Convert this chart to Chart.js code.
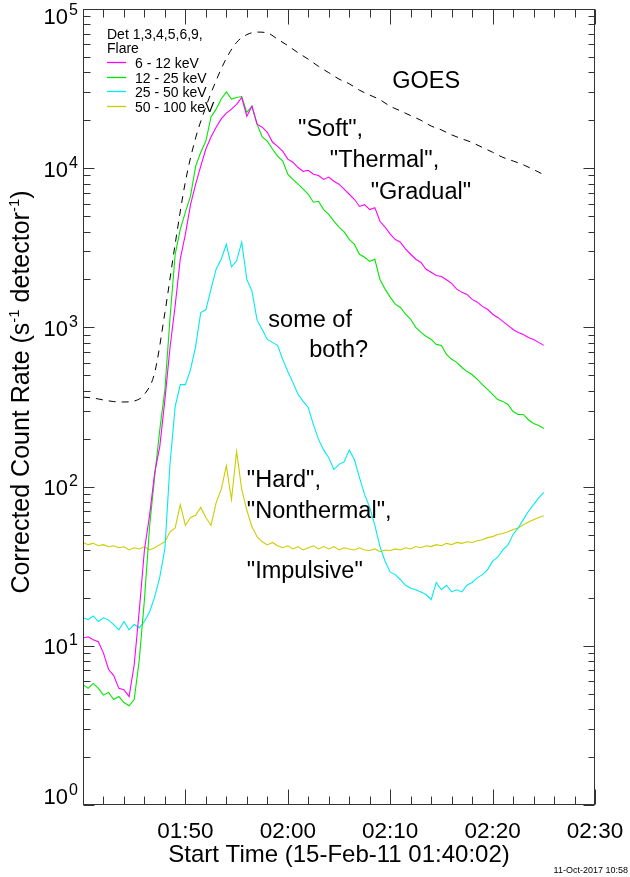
<!DOCTYPE html>
<html>
<head>
<meta charset="utf-8">
<script src="https://cdn.jsdelivr.net/npm/chart.js@4.4.0/dist/chart.umd.min.js"></script>
<style>
	html, body { margin: 0; padding: 0; background: #fff; }
	#wrap { width: 630px; height: 877px; position: relative; }
</style>
</head>
<body>
<div id="wrap"><canvas id="flareChart"></canvas></div>
<script>
// minutes after 01:40 (RHESSI samples)
const minutes = [
	0, 0.5, 1, 1.5, 2, 2.5, 3, 3.5, 4, 4.5,
	5, 5.5, 6, 6.5, 7, 7.5, 8, 8.5, 9, 9.5,
	10, 10.5, 11, 11.5, 12, 12.5, 13, 13.5, 14, 14.5,
	15, 15.5, 16, 16.5, 17, 17.5, 18, 18.5, 19, 19.5,
	20, 20.5, 21, 21.5, 22, 22.5, 23, 23.5, 24, 24.5,
	25, 25.5, 26, 26.5, 27, 27.5, 28, 28.5, 29, 29.5,
	30, 30.5, 31, 31.5, 32, 32.5, 33, 33.5, 34, 34.5,
	35, 35.5, 36, 36.5, 37, 37.5, 38, 38.5, 39, 39.5,
	40, 40.5, 41, 41.5, 42, 42.5, 43, 43.5, 44, 44.5,
	45
];

// 6 - 12 keV
const band6to12 = [
	11.2, 11.4, 10.9, 10.6, 9.0, 7.1, 6.5, 5.4, 5.3, 4.8,
	7.6, 16.8, 40, 66, 122, 179, 352, 750, 1370, 2690,
	3850, 5900, 7940, 10300, 13200, 15700, 18100, 20400, 22200, 23500,
	25200, 27800, 21200, 24500, 18900, 18100, 16800, 14600, 13700, 12800,
	11400, 10900, 10100, 9550, 9700, 9170, 9000, 8500, 8800, 8280,
	7940, 7380, 6860, 6380, 5750, 5900, 5500, 5650, 4640, 4270,
	3850, 3560, 3430, 3100, 2880, 2680, 2560, 2320, 2220, 2120,
	2090, 1990, 1890, 1740, 1660, 1610, 1500, 1440, 1355, 1300,
	1210, 1155, 1090, 1030, 970, 930, 903, 865, 840, 805,
	771
];

// 12 - 25 keV
const band12to25 = [
	5.7, 5.4, 5.8, 5.4, 4.9, 5.1, 4.6, 4.8, 4.4, 4.2,
	4.6, 8.2, 19.5, 56, 116, 228, 408, 1150, 2880, 4130,
	5300, 6670, 10300, 12600, 14800, 21000, 23500, 27200, 30100, 27200,
	27800, 28200, 22400, 24500, 18900, 15700, 14800, 13200, 11900, 11100,
	9170, 8510, 7940, 7380, 6860, 6110, 6200, 5490, 5130, 4650,
	4270, 3980, 3570, 3320, 2880, 2760, 2600, 2680, 2000, 1740,
	1550, 1400, 1335, 1210, 1125, 1000, 930, 880, 840, 782,
	771, 676, 630, 603, 560, 528, 506, 471, 437, 408,
	380, 352, 343, 328, 296, 284, 284, 263, 249, 242,
	232
];

// 25 - 50 keV
const band25to50 = [
	15.0, 14.6, 15.4, 14.2, 15.0, 14.5, 13.6, 12.6, 14.2, 12.6,
	13.6, 13.0, 14.2, 16.3, 20.3, 27, 41, 140, 318, 437,
	437, 543, 760, 1240, 1290, 1740, 2320, 2690, 3330, 2400,
	2620, 3430, 2000, 1690, 1110, 970, 840, 805, 771, 630,
	528, 450, 380, 343, 314, 245, 198, 170, 152, 128,
	138, 143, 170, 148, 114, 89, 74, 57, 42, 34,
	29, 28, 26, 24, 23, 22.5, 21.8, 21, 19.5, 25,
	22.5, 24, 21.8, 22.5, 21.8, 24, 25, 26.7, 28, 30,
	34, 36, 40, 43, 50, 55, 62, 70, 77, 85,
	92
];

// 50 - 100 keV
const band50to100 = [
	44.6, 43.2, 44, 42.5, 43.2, 41.9, 42.5, 41.3, 41.9, 40,
	41.3, 40.6, 41.9, 40, 41.3, 43.2, 45, 52, 55, 77,
	57, 64, 66, 74, 64, 57, 79, 96, 135, 83,
	166, 96, 71, 56, 48.5, 45, 43, 44.6, 42.5, 41.3,
	42.5, 40.6, 42, 40, 41.3, 42.5, 40.6, 42, 40.6, 42,
	40, 41.3, 40.6, 40, 41.3, 40, 39.7, 40.6, 39, 40,
	39.7, 40.6, 40, 41.3, 40.6, 42, 41.3, 42.5, 42, 43.2,
	42.5, 44, 43.2, 44.6, 44, 45, 44.6, 45.7, 46.4, 47.8,
	48.5, 50, 50.7, 52, 53.7, 55, 57.6, 60, 62, 64,
	65.7
];

// GOES (scaled), one sample per minute
const goesMinutes = [
	0, 1, 2, 3, 4, 5, 6, 7, 8, 9,
	10, 11, 12, 13, 14, 15, 16, 17, 18, 19,
	20, 21, 22, 23, 24, 25, 26, 27, 28, 29,
	30, 31, 32, 33, 34, 35, 36, 37, 38, 39,
	40, 41, 42, 43, 44, 45
];
const goesFlux = [
	365, 360, 350, 342, 340, 345, 380, 520, 1240, 3340,
	8220, 15500, 24300, 35500, 49000, 61700, 69000, 71600, 70800, 64600,
	58900, 53100, 48400, 43600, 39800, 36300, 33900, 30900, 28800, 26900,
	24500, 22900, 21400, 20000, 18400, 17400, 16200, 15300, 14500, 13500,
	12600, 11700, 11100, 10500, 9800, 9100
];

const bandLabels = ['6 - 12 keV', '12 - 25 keV', '25 - 50 keV', '50 - 100 keV'];
const bandColors = ['#ff00ff', '#00e800', '#00eaf0', '#cccc00'];

// axis ticks
const xTickValues = [10, 20, 30, 40, 50];
const xTickLabels = ['01:50', '02:00', '02:10', '02:20', '02:30'];
const yTickExps = [0, 1, 2, 3, 4, 5];

// notes on the plot: [text, minute, count rate] (left edge, baseline)
const notes = [
	['GOES', 30.2, 31900],
	['"Soft",', 21.0, 15900],
	['"Thermal",', 24.1, 10150],
	['"Gradual"', 28.1, 6380],
	['some of', 18.1, 1000],
	['both?', 22.1, 648],
	['"Hard",', 16.0, 100],
	['"Nonthermal",', 16.0, 63.8],
	['"Impulsive"', 16.0, 26.5]
];

const FONT = '"Liberation Sans", Arial, Helvetica, sans-serif';

// 축, 눈금, 글자 그리기
const decorPlugin = {
	id: 'decor',
	afterDraw: function(chart) {
		const ctx = chart.ctx;
		const a = chart.chartArea;
		const xs = chart.scales.x;
		const ys = chart.scales.y;
		const L = a.left + 0.5, R = a.right - 0.5, T = a.top + 0.5, B = a.bottom - 0.5;

		ctx.save();
		ctx.strokeStyle = '#333';
		ctx.lineWidth = 1;
		let seg = function(x1, y1, x2, y2) {
			ctx.beginPath();
			ctx.moveTo(x1, y1);
			ctx.lineTo(x2, y2);
			ctx.stroke();
		};
		ctx.strokeRect(L, T, R - L, B - T);

		// x ticks, bottom and top
		for (let m = 0; m <= 50; m += 2) {
			let px = Math.round(xs.getPixelForValue(m)) + 0.5;
			let len = (m % 10 === 0) ? 15 : 8;
			seg(px, B, px, B - len);
			seg(px, T, px, T + len);
		}
		// y ticks, left and right
		for (let e = 0; e <= 5; e++) {
			for (let k = 1; k <= 9; k++) {
				if (e === 5 && k > 1) break;
				let py = Math.round(ys.getPixelForValue(k * Math.pow(10, e))) + 0.5;
				let major = (k === 1);
				seg(L, py, L + (major ? 11 : 7), py);
				seg(R, py, R - (major ? 11 : 6), py);
			}
		}

		ctx.fillStyle = '#000';
		// y tick labels 10^n
		yTickExps.forEach(function(e) {
			let c = Math.min(795, Math.max(15, ys.getPixelForValue(Math.pow(10, e))));
			ctx.font = '22px ' + FONT;
			ctx.textAlign = 'right';
			ctx.fillText('10', 68, c + 8.5);
			ctx.font = '16px ' + FONT;
			ctx.textAlign = 'left';
			ctx.fillText(String(e), 69, c - 0.5);
		});

		// x tick labels
		ctx.font = '22.5px ' + FONT;
		ctx.textAlign = 'center';
		xTickValues.forEach(function(v, i) {
			ctx.fillText(xTickLabels[i], xs.getPixelForValue(v), 838);
		});
		ctx.font = '24px ' + FONT;
		ctx.fillText('Start Time (15-Feb-11 01:40:02)', (a.left + a.right) / 2, 862);

		// y title with superscripts
		const parts = [
			['Corrected Count Rate (s', false],
			['-1', true],
			[' detector', false],
			['-1', true],
			[')', false]
		];
		ctx.save();
		ctx.translate(29, 392);
		ctx.rotate(-Math.PI / 2);
		ctx.textAlign = 'left';
		let total = 0;
		parts.forEach(function(p) {
			ctx.font = (p[1] ? '15px ' : '25px ') + FONT;
			total += ctx.measureText(p[0]).width;
		});
		let u = -total / 2;
		parts.forEach(function(p) {
			ctx.font = (p[1] ? '15px ' : '25px ') + FONT;
			ctx.fillText(p[0], u, p[1] ? -10 : 0);
			u += ctx.measureText(p[0]).width;
		});
		ctx.restore();

		// legend
		ctx.textAlign = 'left';
		ctx.font = '14px ' + FONT;
		ctx.fillText('Det 1,3,4,5,6,9,', 107, 39);
		ctx.fillText('Flare', 107, 53);
		chart.data.datasets.forEach(function(ds, i) {
			if (i > 3) return;
			let by = 68 + i * 14.6;
			ctx.strokeStyle = ds.borderColor;
			ctx.lineWidth = 1.3;
			seg(107, Math.round(by - 6) + 0.5, 126, Math.round(by - 6) + 0.5);
			ctx.fillStyle = '#000';
			ctx.fillText(ds.label, 135, by);
		});

		// notes
		ctx.font = '23.5px ' + FONT;
		notes.forEach(function(n) {
			ctx.fillText(n[0], xs.getPixelForValue(n[1]), ys.getPixelForValue(n[2]));
		});

		// time stamp
		ctx.font = '9px ' + FONT;
		ctx.textAlign = 'right';
		ctx.fillText('11-Oct-2017 10:58', 628, 873);
		ctx.restore();
	}
};

let pairs = function(xv, yv) {
	return xv.map(function(x, i) { return {x: x, y: yv[i]}; });
};

const bands = [band6to12, band12to25, band25to50, band50to100];
let datasets = bands.map(function(b, i) {
	return {
		label: bandLabels[i],
		data: pairs(minutes, b),
		borderColor: bandColors[i],
		borderWidth: 1.1,
		pointRadius: 0,
		tension: 0,
		order: i
	};
});
datasets.push({
	label: 'GOES',
	data: pairs(goesMinutes, goesFlux),
	borderColor: '#000',
	borderWidth: 1,
	borderDash: [7, 6],
	pointRadius: 0,
	cubicInterpolationMode: 'monotone',
	order: 5
});

new Chart(document.getElementById('flareChart'), {
	type: 'line',
	data: { datasets: datasets },
	options: {
		responsive: true,
		maintainAspectRatio: false,
		animation: false,
		devicePixelRatio: 1,
		layout: { padding: { top: 9, right: 35, left: 0, bottom: 0 } },
		plugins: {
			legend: { display: false },
			tooltip: { enabled: false }
		},
		scales: {
			x: {
				type: 'linear',
				min: 0,
				max: 50,
				grid: { display: false },
				border: { display: false },
				ticks: { display: false },
				afterFit: function(s) { s.height = 72; }
			},
			y: {
				type: 'logarithmic',
				min: 1,
				max: 100000,
				grid: { display: false },
				border: { display: false },
				ticks: { display: false },
				afterFit: function(s) { s.width = 83; }
			}
		}
	},
	plugins: [decorPlugin]
});
</script>
</body>
</html>
